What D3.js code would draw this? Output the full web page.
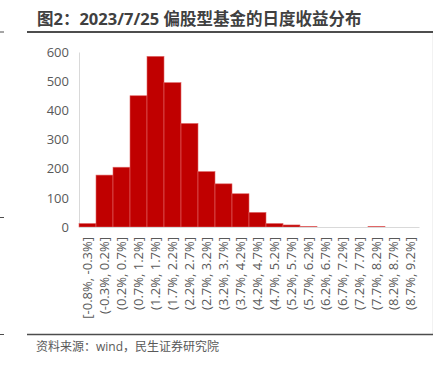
<!DOCTYPE html>
<html>
<head>
<meta charset="UTF-8">
<style>
  body { margin: 0; background: #fff; }
  svg { display: block; font-family: "Open Sans", "Noto Sans CJK SC", sans-serif; }
</style>
</head>
<body>
<svg></svg>
<script src="https://d3js.org/d3.v7.min.js"></script>
<script>
  const width = 447, height = 373;

  // return ranges (bins)
  const bins = ["[-0.8%, -0.3%]", "(-0.3%, 0.2%]", "(0.2%, 0.7%]", "(0.7%, 1.2%]", "(1.2%, 1.7%]",
    "(1.7%, 2.2%]", "(2.2%, 2.7%]", "(2.7%, 3.2%]", "(3.2%, 3.7%]", "(3.7%, 4.2%]",
    "(4.2%, 4.7%]", "(4.7%, 5.2%]", "(5.2%, 5.7%]", "(5.7%, 6.2%]", "(6.2%, 6.7%]",
    "(6.7%, 7.2%]", "(7.2%, 7.7%]", "(7.7%, 8.2%]", "(8.2%, 8.7%]", "(8.7%, 9.2%]"];
  // number of funds in each bin
  const counts = [12, 178, 205, 450, 585, 495, 355, 190, 148, 114, 50, 12, 7, 2, 0, 0, 0, 2, 0, 0];
  const yTicks = [0, 100, 200, 300, 400, 500, 600];

  const svg = d3.select("svg").attr("width", width).attr("height", height);

  // title + frame lines
  svg.append("text")
    .attr("x", 37).attr("y", 25)
    .attr("font-size", 16.5).attr("font-weight", "bold")
    .attr("fill", "#404040")
    .text("图2：2023/7/25 偏股型基金的日度收益分布");
  svg.append("line").attr("x1", 27).attr("x2", 433).attr("y1", 32).attr("y2", 32)
    .attr("stroke", "#4d4d4d").attr("stroke-width", 2);
  svg.append("line").attr("x1", 0).attr("x2", 4).attr("y1", 32).attr("y2", 32)
    .attr("stroke", "#4d4d4d").attr("stroke-width", 1);
  svg.append("line").attr("x1", 0).attr("x2", 4).attr("y1", 217.5).attr("y2", 217.5)
    .attr("stroke", "#4d4d4d").attr("stroke-width", 1);
  svg.append("line").attr("x1", 432.5).attr("x2", 432.5).attr("y1", 33).attr("y2", 334)
    .attr("stroke", "#f2f2f2").attr("stroke-width", 1);
  svg.append("line").attr("x1", 27).attr("x2", 433).attr("y1", 334.5).attr("y2", 334.5)
    .attr("stroke", "#4d4d4d").attr("stroke-width", 1.5);
  svg.append("line").attr("x1", 0).attr("x2", 4).attr("y1", 334.5).attr("y2", 334.5)
    .attr("stroke", "#4d4d4d").attr("stroke-width", 1);

  svg.append("text")
    .attr("x", 36).attr("y", 351)
    .attr("font-size", 12).attr("fill", "#595959")
    .text("资料来源：wind，民生证券研究院");

  // scales
  const x = d3.scaleBand().domain(bins).range([79, 419]).padding(0);
  const y = d3.scaleLinear().domain([0, 600]).range([227, 52]);

  // y axis
  const yAxis = svg.append("g")
    .attr("transform", "translate(79,0)")
    .call(d3.axisLeft(y).tickValues(yTicks).tickSize(0).tickPadding(10));
  yAxis.select(".domain").attr("stroke", "#d9d9d9");
  yAxis.selectAll("text").attr("font-size", 13).attr("fill", "#595959")
    .attr("font-family", "Open Sans, sans-serif");

  // bars
  svg.append("g").selectAll("rect")
    .data(counts)
    .join("rect")
    .attr("x", (d, i) => x(bins[i]))
    .attr("width", x.bandwidth())
    .attr("y", d => y(d))
    .attr("height", d => y(0) - y(d))
    .attr("fill", "#c00000")
    .attr("stroke", d => d > 0 ? "#e06666" : "none")
    .attr("stroke-width", 0.6);

  // x axis
  const xAxis = svg.append("g")
    .attr("transform", "translate(0,227)")
    .call(d3.axisBottom(x).tickSize(0));
  xAxis.select(".domain").attr("stroke", "#d9d9d9").attr("stroke-width", 1.2);
  xAxis.selectAll("text")
    .attr("font-size", 13).attr("fill", "#595959")
    .attr("font-family", "Open Sans, sans-serif")
    .attr("transform", "rotate(-90)")
    .attr("text-anchor", "end")
    .attr("x", -10).attr("y", 0).attr("dy", "0.35em");
</script>
</body>
</html>
